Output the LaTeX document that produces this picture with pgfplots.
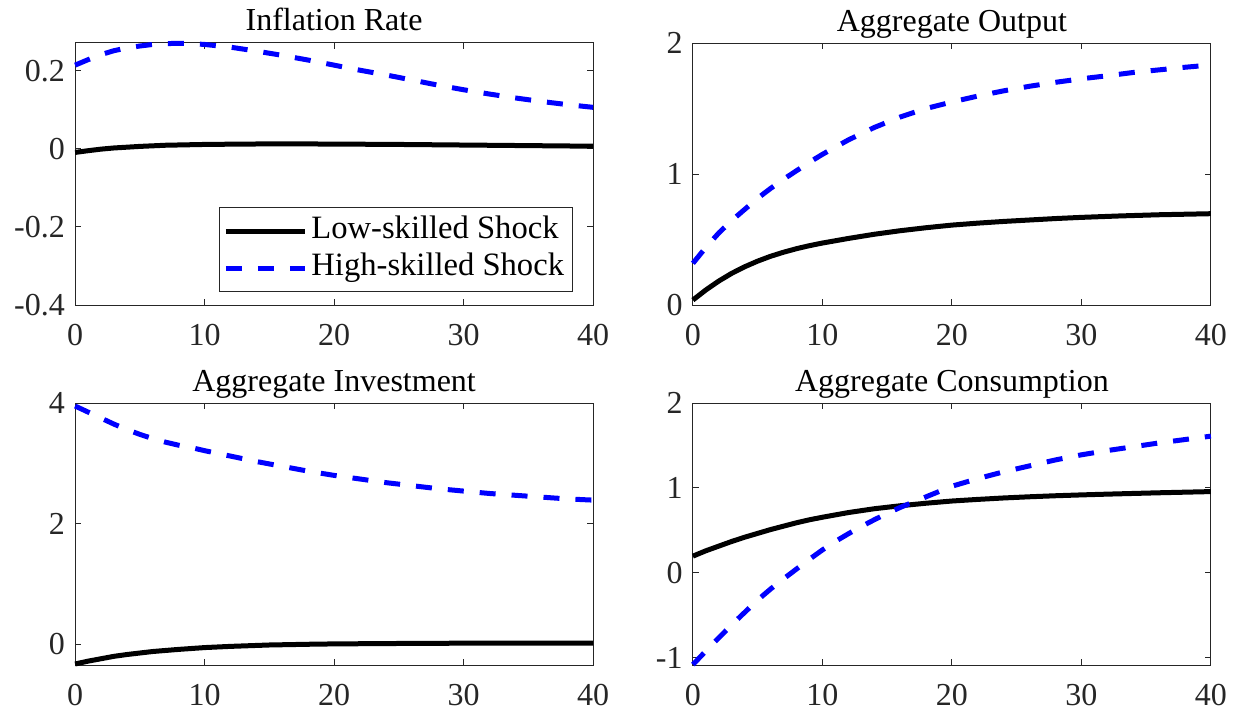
\documentclass[border=0pt]{standalone}
\usepackage{fontspec}
\setmainfont{Liberation Serif}
\usepackage{pgfplots}
\pgfplotsset{compat=1.18}

\definecolor{axgray}{gray}{0.15}
\definecolor{mblue}{rgb}{0,0,1}

\pgfplotsset{irf/.style={
  scale only axis, width=259pt, height=131pt, anchor=south west,
  xmin=0, xmax=40, xtick={0,10,20,30,40},
  axis line style={axgray, line width=0.5pt},
  tick style={axgray, line width=0.5pt}, major tick length=3pt,
  tick align=inside, minor tick num=0,
  ticklabel style={font=\fontsize{16}{18}\selectfont, text=axgray},
  /pgf/number format/assume math mode=true,
  xticklabel style={yshift=-6pt},
  yticklabel style={xshift=-1.6pt},
  title style={font=\fontsize{16}{18}\selectfont, at={(0.5,1)}, anchor=base, yshift=0pt},
  clip=false,
  lowline/.style={black, line width=2.5pt, line join=round},
  highline/.style={mblue, line width=2.5pt, dash pattern=on 8pt off 8pt},
}}

\begin{document}
\begin{tikzpicture}
\useasboundingbox (0,0) rectangle (619pt,-357pt);

% inflation
\begin{axis}[irf, at={(37.55pt,-152.5pt)}, title={Inflation Rate},
  ymin=-0.4, ymax=0.2707, ytick={-0.4,-0.2,0,0.2}, yticklabels={-0.4,-0.2,0,0.2},
  legend style={at={(0.9604,0.0496)}, anchor=south east, draw=axgray, line width=0.5pt,
    font=\fontsize{16.3}{18}\selectfont, inner xsep=2pt, inner ysep=2.5pt, row sep=0pt,
    nodes={inner sep=2pt, text height=11pt, text depth=3.5pt}},
  legend cell align=left,
  legend image code/.code={\draw[#1] (0pt,0pt) -- (39.5pt,0pt);}]
\addplot[lowline] coordinates {
 (0,-0.0094) (1,-0.005) (2,-0.001) (3,0.002) (4,0.004) (5,0.006) (7,0.009) (10,0.011)
 (13,0.012) (16,0.0125) (20,0.012) (25,0.011) (30,0.0095) (35,0.008) (40,0.0065)};
\addlegendentry{Low-skilled Shock}
\addplot[highline] coordinates {
 (0,0.214) (1,0.228) (2,0.241) (3,0.251) (4,0.258) (5,0.263) (6,0.267) (7,0.269) (8,0.270)
 (9,0.269) (10,0.267) (12,0.260) (14,0.250) (16,0.239) (18,0.227) (20,0.214) (22,0.201)
 (24,0.189) (26,0.176) (28,0.163) (30,0.151) (32,0.140) (34,0.130) (36,0.121) (38,0.113) (40,0.106)};
\addlegendentry{High-skilled Shock}
\end{axis}

% output
\begin{axis}[irf, at={(346.45pt,-152.5pt)}, title={Aggregate Output},
  ymin=0, ymax=2, ytick={0,1,2}, yticklabels={0,1,2}]
\addplot[lowline] coordinates {
 (0,0.038) (1,0.115) (2,0.183) (3,0.242) (4,0.292) (5,0.335) (6,0.372) (7,0.403) (8,0.43)
 (9,0.453) (10,0.473) (12,0.508) (14,0.54) (16,0.567) (18,0.59) (20,0.61) (22,0.625)
 (24,0.638) (26,0.649) (28,0.66) (30,0.669) (33,0.68) (36,0.689) (40,0.697)};
\addplot[highline] coordinates {
 (0,0.318) (1,0.44) (2,0.55) (3,0.645) (4,0.73) (5,0.815) (6,0.89) (7,0.96) (8,1.025)
 (9,1.09) (10,1.15) (12,1.26) (14,1.355) (16,1.435) (18,1.50) (20,1.55) (22,1.595)
 (24,1.635) (26,1.67) (28,1.70) (30,1.727) (32,1.75) (34,1.775) (36,1.795) (38,1.815) (40,1.832)};
\end{axis}

% investment
\begin{axis}[irf, at={(37.55pt,-332.5pt)}, title={Aggregate Investment},
  ymin=-0.344, ymax=4, ytick={0,2,4}, yticklabels={0,2,4}]
\addplot[lowline] coordinates {
 (0,-0.327) (1,-0.28) (2,-0.24) (3,-0.20) (4,-0.17) (5,-0.145) (6,-0.12) (8,-0.085)
 (10,-0.055) (12,-0.035) (15,-0.012) (18,0.0) (20,0.006) (25,0.013) (30,0.018) (35,0.02) (40,0.02)};
\addplot[highline] coordinates {
 (0,3.95) (1,3.85) (2,3.75) (3,3.65) (4,3.56) (5,3.48) (6,3.41) (7,3.35) (8,3.30) (9,3.26)
 (10,3.21) (12,3.12) (14,3.03) (16,2.95) (18,2.87) (20,2.80) (22,2.74) (24,2.68) (26,2.63)
 (28,2.58) (30,2.54) (32,2.50) (34,2.47) (36,2.44) (38,2.41) (40,2.39)};
\end{axis}

% consumption
\begin{axis}[irf, at={(346.45pt,-332.5pt)}, title={Aggregate Consumption},
  ymin=-1.085, ymax=2, ytick={-1,0,1,2}, yticklabels={-1,0,1,2}]
\addplot[lowline] coordinates {
 (0,0.197) (1,0.26) (2,0.315) (3,0.37) (4,0.42) (5,0.465) (6,0.51) (7,0.55) (8,0.59)
 (9,0.625) (10,0.655) (12,0.71) (14,0.755) (16,0.79) (18,0.82) (20,0.846) (22,0.865)
 (24,0.882) (26,0.896) (28,0.908) (30,0.918) (32,0.927) (34,0.935) (36,0.943) (38,0.95) (40,0.957)};
\addplot[highline] coordinates {
 (0,-1.08) (1,-0.92) (2,-0.765) (3,-0.61) (4,-0.465) (5,-0.32) (6,-0.19) (7,-0.07) (8,0.045)
 (9,0.16) (10,0.27) (11,0.37) (12,0.46) (13,0.545) (14,0.625) (15,0.70) (16,0.77) (18,0.895)
 (20,1.02) (22,1.11) (24,1.19) (26,1.26) (28,1.33) (30,1.39) (32,1.44) (34,1.485) (36,1.53)
 (38,1.57) (40,1.61)};
\end{axis}
\end{tikzpicture}
\end{document}
